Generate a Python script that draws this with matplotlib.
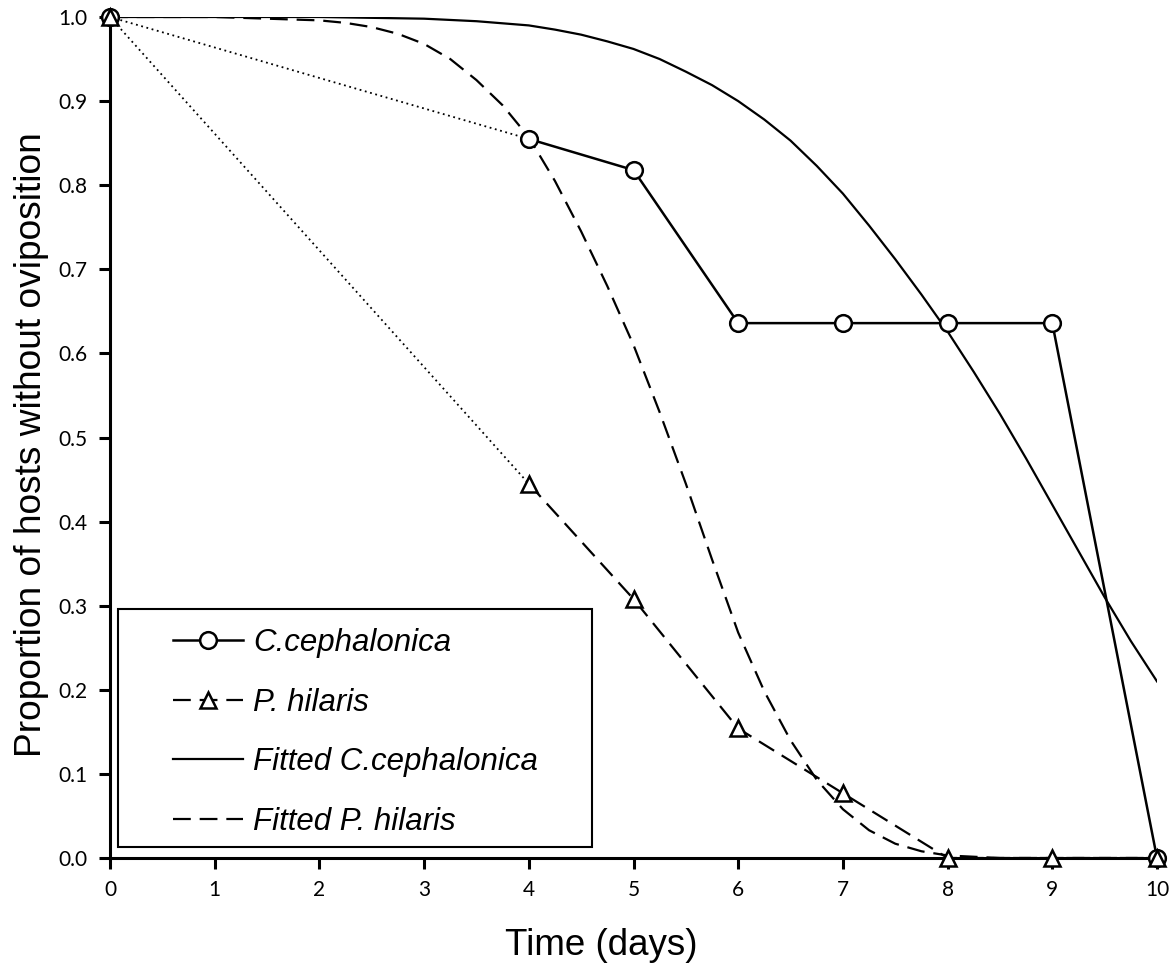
import numpy as np
import matplotlib
matplotlib.use('Agg')
import matplotlib.pyplot as plt
from matplotlib.lines import Line2D
from matplotlib.patches import Rectangle

# Observed proportions of hosts without oviposition
days = [0, 4, 5, 6, 7, 8, 9, 10]
c_ceph = [1.0, 0.855, 0.818, 0.636, 0.636, 0.636, 0.636, 0.0]
p_hil = [1.0, 0.445, 0.308, 0.154, 0.077, 0.0, 0.0, 0.0]

# Fitted curves
fit_t_c = [0, 1, 2, 3, 3.5, 4, 4.25, 4.5, 4.75, 5, 5.25, 5.5, 5.75, 6, 6.25, 6.5,
           6.75, 7, 7.25, 7.5, 7.75, 8, 8.25, 8.5, 8.75, 9, 9.25, 9.5, 9.75, 10]
fit_c = [1.0, 1.0, 1.0, 0.998, 0.995, 0.99, 0.985, 0.979, 0.971, 0.962, 0.95,
         0.935, 0.919, 0.90, 0.878, 0.853, 0.823, 0.79, 0.752, 0.712, 0.67,
         0.626, 0.578, 0.528, 0.475, 0.42, 0.365, 0.31, 0.258, 0.21]
fit_t_p = [0, 1, 2, 2.25, 2.5, 2.75, 3, 3.25, 3.5, 3.75, 4, 4.25, 4.5, 4.75, 5,
           5.25, 5.5, 5.75, 6, 6.25, 6.5, 6.75, 7, 7.25, 7.5, 7.75, 8, 8.5, 9, 10]
fit_p = [1.0, 1.0, 0.996, 0.993, 0.988, 0.98, 0.968, 0.95, 0.925, 0.895, 0.857,
         0.805, 0.745, 0.68, 0.61, 0.53, 0.445, 0.355, 0.268, 0.198, 0.14,
         0.093, 0.058, 0.033, 0.017, 0.008, 0.003, 0.0, 0.0, 0.0]

labels = ['C.cephalonica', 'P. hilaris', 'Fitted C.cephalonica', 'Fitted P. hilaris']

plt.rcParams['font.family'] = 'Liberation Sans'

fig = plt.figure(figsize=(11.73, 9.68), dpi=100)
ax = fig.add_axes([110 / 1173, 1 - 858 / 968, 1047 / 1173, 841 / 968])

dotted = (0, (1, 2.0))
dash = (8, 4)

# first interval (day 0 -> 4) drawn dotted
ax.plot(days[:2], c_ceph[:2], color='black', lw=1.3, linestyle=dotted)
ax.plot(days[:2], p_hil[:2], color='black', lw=1.3, linestyle=dotted)

# fitted curves
ax.plot(fit_t_c, fit_c, color='black', lw=1.6)
ax.plot(fit_t_p, fit_p, color='black', lw=1.6, dashes=dash)

# observed lines
ax.plot(days[1:], c_ceph[1:], color='black', lw=1.8)
ax.plot(days[1:], p_hil[1:], color='black', lw=1.6, dashes=dash)

ax.plot(days, c_ceph, 'o', ms=12, mfc='white', mec='black', mew=1.8,
        linestyle='none', clip_on=False, zorder=5)
ax.plot(days, p_hil, '^', ms=12, mfc='white', mec='black', mew=1.8,
        linestyle='none', clip_on=False, zorder=6)

ax.set_xlim(0, 10)
ax.set_ylim(0, 1)
ax.spines['top'].set_visible(False)
ax.spines['right'].set_visible(False)
ax.spines['left'].set_linewidth(2.2)
ax.spines['bottom'].set_linewidth(2.2)

ax.set_xticks(range(11))
yt = np.arange(0, 1.01, 0.1)
ax.set_yticks(yt)
ax.set_yticklabels([f'{v:.1f}' for v in yt])
ax.tick_params(direction='out', length=8, width=2.2, labelsize=15)
ax.tick_params(axis='x', pad=8)
ax.tick_params(axis='y', pad=8)
for lbl in ax.get_xticklabels() + ax.get_yticklabels():
    lbl.set_fontfamily('Lato')

ax.set_xlabel('Time (days)', fontsize=26.5, va='top')
ax.xaxis.set_label_coords(0.469, -0.083)
ax.set_ylabel('Proportion of hosts without oviposition', fontsize=26.7)
ax.yaxis.set_label_coords(-0.058, 0.492)

# legend
handles = [
    Line2D([], [], color='black', lw=1.8, marker='o', ms=12, mfc='white', mec='black', mew=1.8),
    Line2D([], [], color='black', lw=1.6, dashes=dash, marker='^', ms=12, mfc='white', mec='black', mew=1.8),
    Line2D([], [], color='black', lw=1.6),
    Line2D([], [], color='black', lw=1.6, dashes=dash),
]
ax.legend(handles, labels, loc='upper left', bbox_to_anchor=(0.0602, 0.2735),
          frameon=False, prop={'family': 'Liberation Sans', 'style': 'italic', 'size': 22.5},
          handlelength=2.25, handletextpad=0.32, labelspacing=0.95,
          borderpad=0, borderaxespad=0, numpoints=1)
ax.add_patch(Rectangle((0.0076, 0.013), 0.4527, 0.283, transform=ax.transAxes,
                       fill=False, lw=1.5, ec='black', zorder=7))

fig.savefig('out.png', dpi=100)
